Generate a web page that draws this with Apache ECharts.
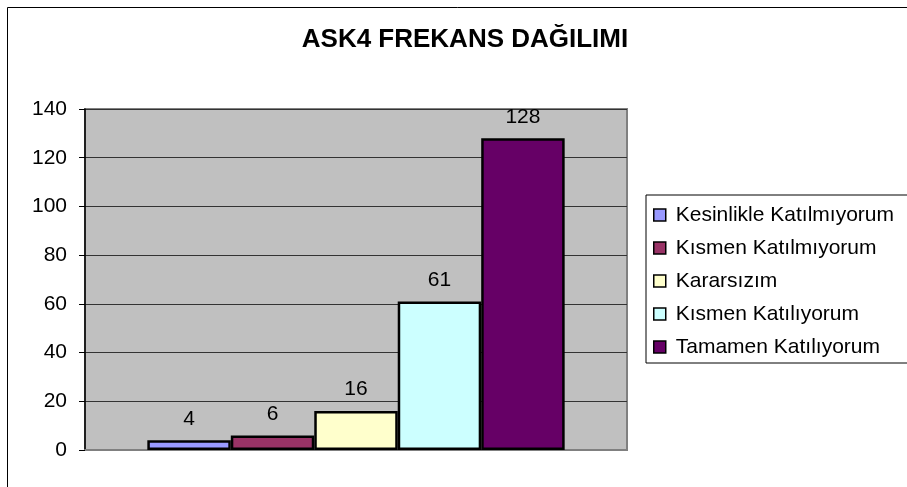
<!DOCTYPE html>
<html>
<head>
<meta charset="utf-8">
<script src="https://cdn.jsdelivr.net/npm/echarts@6/dist/echarts.min.js"></script>
<style>
  html, body { margin: 0; padding: 0; background: #fff; }
  #chart { width: 907px; height: 487px; }
</style>
</head>
<body>
<div id="chart"></div>
<script>
// Response categories (one bar per category) and their frequencies
const responseNames = ['Kesinlikle Katılmıyorum', 'Kısmen Katılmıyorum', 'Kararsızım', 'Kısmen Katılıyorum', 'Tamamen Katılıyorum'];
const frequencies = [4, 6, 16, 61, 128];
const barColors = ['#9999FF', '#993366', '#FFFFCC', '#CCFFFF', '#660066'];
const groupLabel = ['ASK4'];
const yTicks = { min: 0, max: 140, interval: 20 };

const FONT = '"Liberation Sans", Arial, sans-serif';

const chart = echarts.init(document.getElementById('chart'), null, { renderer: 'canvas' });

const series = responseNames.map((name, i) => ({
  name: name,
  type: 'bar',
  data: [frequencies[i]],
  barGap: '0%',
  barCategoryGap: '23%',
  itemStyle: { color: barColors[i], borderColor: '#000', borderWidth: 2.5 },
  label: {
    show: true,
    position: 'top',
    distance: 11,
    color: '#000',
    fontSize: 21,
    fontFamily: FONT
  },
  emphasis: { disabled: true }
}));

chart.setOption({
  animation: false,
  backgroundColor: '#fff',
  title: {
    text: 'ASK4 FREKANS DAĞILIMI',
    left: 460,
    textAlign: 'center',
    top: 22,
    textStyle: { fontSize: 26, fontWeight: 'bold', color: '#000', fontFamily: FONT }
  },
  graphic: [{
    type: 'rect',
    shape: { x: 7.5, y: 7.5, width: 920, height: 500 },
    style: { fill: 'none', stroke: '#000', lineWidth: 1 },
    silent: true,
    z: 100
  }],
  legend: {
    orient: 'vertical',
    left: 646,
    top: 195,
    padding: [9, 20, 5, 7],
    itemGap: 11,
    itemWidth: 12,
    itemHeight: 12,
    icon: 'rect',
    borderColor: '#000',
    borderWidth: 1,
    backgroundColor: '#fff',
    itemStyle: { borderColor: '#000', borderWidth: 1.5 },
    textStyle: { fontSize: 21, color: '#000', fontFamily: FONT, lineHeight: 22, padding: [0, 0, 0, 5] },
    data: responseNames
  },
  grid: {
    left: 85,
    right: 280,
    top: 109,
    bottom: 37,
    show: true,
    backgroundColor: '#C0C0C0',
    borderColor: '#808080',
    borderWidth: 2
  },
  xAxis: {
    type: 'category',
    data: groupLabel,
    axisLine: { show: true, lineStyle: { color: '#808080', width: 2 } },
    axisTick: { show: false },
    axisLabel: { show: false }
  },
  yAxis: {
    type: 'value',
    min: yTicks.min,
    max: yTicks.max,
    interval: yTicks.interval,
    axisLine: { show: true, lineStyle: { color: '#000', width: 1.5 } },
    axisTick: { show: true, length: 6, lineStyle: { color: '#000' } },
    axisLabel: { fontSize: 21, color: '#000', fontFamily: FONT, margin: 18 },
    splitLine: { show: true, lineStyle: { color: '#333', width: 1 } }
  },
  series: series
});
</script>
</body>
</html>
